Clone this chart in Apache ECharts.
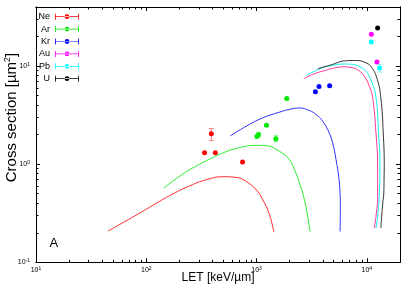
<!DOCTYPE html>
<html><head><meta charset="utf-8">
<script src="https://cdn.jsdelivr.net/npm/echarts@6/dist/echarts.min.js"></script>
<style>html,body{margin:0;padding:0;background:#fff}#c{width:415px;height:291px}</style>
</head><body><div id="c"></div>
<script>
const FONT = '"Liberation Sans", Arial, sans-serif';

// ---- measured data points (LET keV/um, cross section um^2) ----
const ionNames = ['Ne', 'Ar', 'Kr', 'Au', 'Pb', 'U'];
const neLET = [338, 389, 423, 747];
const neSigma = [1.31, 2.04, 1.31, 1.05];
const neLow = [1.31, 1.74, 1.31, 1.05];
const neHigh = [1.31, 2.31, 1.31, 1.05];
const arLET = [1007, 1042, 1231, 1496, 1880];
const arSigma = [1.92, 2.00, 2.49, 1.82, 4.68];
const arLow = [1.92, 1.91, 2.49, 1.69, 4.68];
const arHigh = [1.92, 2.11, 2.49, 1.95, 4.68];
const krLET = [3420, 3690, 4600];
const krSigma = [5.47, 6.20, 6.31];
const krLow = [5.47, 6.20, 6.31];
const krHigh = [5.47, 6.20, 6.31];
const auLET = [10990, 12360];
const auSigma = [21.1, 11.0];
const auLow = [21.1, 11.0];
const auHigh = [21.1, 11.0];
const pbLET = [10990, 13060];
const pbSigma = [17.6, 9.55];
const pbLow = [17.6, 8.7];
const pbHigh = [17.6, 10.4];
const uLET = [12530];
const uSigma = [24.5];
const uLow = [24.5];
const uHigh = [24.5];

// ---- model curves ----
const neFitLET = [45, 87, 124, 175, 248, 351, 495, 655, 807, 994, 1140, 1312, 1435];
const neFitSigma = [0.208, 0.317, 0.401, 0.499, 0.602, 0.695, 0.745, 0.733, 0.667, 0.548, 0.434, 0.305, 0.203];
const arFitLET = [144, 188, 248, 351, 495, 701, 994, 1224, 1616, 1992, 2210, 2451, 2719, 2912, 3061];
const arFitSigma = [0.571, 0.716, 0.879, 1.086, 1.302, 1.476, 1.557, 1.546, 1.352, 1.112, 0.879, 0.643, 0.434, 0.292, 0.206];
const krFitLET = [578, 807, 1140, 1616, 1992, 2451, 3020, 3470, 3981, 4420, 4900, 5260, 5555, 5720, 5755, 5720];
const krFitSigma = [1.94, 2.44, 2.97, 3.39, 3.62, 3.74, 3.52, 3.21, 2.74, 2.25, 1.65, 1.11, 0.750, 0.508, 0.371, 0.206];
const auFitLET = [2680, 3236, 3981, 4900, 6040, 7430, 8550, 9490, 10540, 11280, 12110, 12530, 12530, 12110, 11690];
const auFitSigma = [7.43, 8.22, 8.89, 9.47, 9.81, 9.63, 8.89, 7.91, 6.24, 4.81, 2.08, 0.951, 0.469, 0.292, 0.223];
const pbFitLET = [2818, 3981, 4900, 6250, 7430, 8700, 9840, 11140, 12110, 12790, 13160, 12970, 12530, 12110];
const pbFitSigma = [8.03, 9.63, 10.17, 10.5, 10.4, 9.8, 8.89, 6.76, 4.81, 2.08, 0.951, 0.469, 0.292, 0.223];
const uFitLET = [3590, 4900, 6250, 7870, 9840, 11220, 12450, 13400, 14100, 14390, 14330, 14260, 13960, 13400];
const uFitSigma = [9.40, 10.4, 11.3, 11.4, 10.8, 9.48, 7.31, 4.81, 2.08, 0.951, 0.695, 0.508, 0.404, 0.223];

// ---- ticks ----
const xMajorTicks = [10, 100, 1000, 10000];
const xMinorTicks = [20, 30, 40, 50, 60, 70, 80, 90, 200, 300, 400, 500, 600, 700, 800, 900, 2000, 3000, 4000, 5000, 6000, 7000, 8000, 9000];
const yMajorTicks = [0.1, 1, 10];
const yMinorTicks = [0.2, 0.3, 0.4, 0.5, 0.6, 0.7, 0.8, 0.9, 2, 3, 4, 5, 6, 7, 8, 9, 20, 30];

const pointColors = ['#ff0000', '#00e800', '#0000ff', '#ff00ff', '#00ffff', '#000000'];
const barColors = ['#ff8080', '#80f080', '#8080ff', '#ff80ff', '#80ffff', '#808080'];
const curveColors = ['#ff2a2a', '#2aee2a', '#3030ff', '#ff3399', '#10f0f0', '#333333'];

const ptLET = [neLET, arLET, krLET, auLET, pbLET, uLET];
const ptSig = [neSigma, arSigma, krSigma, auSigma, pbSigma, uSigma];
const ptLo = [neLow, arLow, krLow, auLow, pbLow, uLow];
const ptHi = [neHigh, arHigh, krHigh, auHigh, pbHigh, uHigh];
const fitLET = [neFitLET, arFitLET, krFitLET, auFitLET, pbFitLET, uFitLET];
const fitSig = [neFitSigma, arFitSigma, krFitSigma, auFitSigma, pbFitSigma, uFitSigma];

const rich = {
  b: {fontSize: 7, fontFamily: FONT, color: '#000', lineHeight: 8},
  s: {fontSize: 5, fontFamily: FONT, color: '#000', lineHeight: 5, verticalAlign: 'top'}
};
function powFmt(v) {
  const e = Math.round(Math.log10(v));
  return '{b|10}{s|' + e + '}';
}
function mkAxis(dim, pos, values, len, labels) {
  return {
    type: 'log', logBase: 10, gridIndex: 0, position: pos,
    min: dim === 'x' ? 10 : 0.1, max: dim === 'x' ? 20000 : 40,
    axisLine: {show: true, lineStyle: {color: '#000', width: 1}},
    axisTick: {show: true, inside: true, length: len, customValues: values, lineStyle: {color: '#000', width: 1}},
    axisLabel: labels ? {show: true, customValues: values, margin: dim === 'x' ? 4 : 6, formatter: powFmt, rich: rich} : {show: false},
    splitLine: {show: false}, minorTick: {show: false}, minorSplitLine: {show: false},
    axisPointer: {show: false}
  };
}

const series = [];
ionNames.forEach((n, i) => {
  series.push({
    type: 'scatter', name: n, xAxisIndex: 0, yAxisIndex: 0,
    data: ptLET[i].map((x, k) => [x, ptSig[i][k]]),
    symbol: 'circle', symbolSize: 5, itemStyle: {color: pointColors[i], opacity: 1}, z: 6
  });
});
ionNames.forEach((n, i) => {
  const eb = [];
  ptLET[i].forEach((x, k) => { if (ptHi[i][k] > ptLo[i][k]) eb.push([x, ptLo[i][k], ptHi[i][k]]); });
  if (!eb.length) return;
  const col = barColors[i];
  series.push({
    type: 'custom', name: n + ' err', xAxisIndex: 0, yAxisIndex: 0, z: 5,
    encode: {x: 0, y: [1, 2]}, data: eb,
    renderItem: function (params, api) {
      const x = api.value(0), lo = api.value(1), hi = api.value(2);
      const p1 = api.coord([x, lo]), p2 = api.coord([x, hi]);
      const w = 2.5;
      return {type: 'group', children: [
        {type: 'line', shape: {x1: p1[0], y1: p1[1], x2: p2[0], y2: p2[1]}, style: {stroke: col, lineWidth: 1}},
        {type: 'line', shape: {x1: p1[0] - w, y1: p1[1], x2: p1[0] + w, y2: p1[1]}, style: {stroke: col, lineWidth: 1}},
        {type: 'line', shape: {x1: p2[0] - w, y1: p2[1], x2: p2[0] + w, y2: p2[1]}, style: {stroke: col, lineWidth: 1}}
      ]};
    }
  });
});
ionNames.forEach((n, i) => {
  series.push({
    type: 'line', name: n + ' model', xAxisIndex: 0, yAxisIndex: 0, z: 3,
    data: fitLET[i].map((x, k) => [x, fitSig[i][k]]),
    showSymbol: false, symbol: 'none', smooth: 0.45,
    lineStyle: {color: curveColors[i], width: 1}, itemStyle: {color: curveColors[i]}
  });
});

const ICON = 'path://M0,3.15H24V3.85H0Z M0,0.5H0.8V6.5H0Z M23.2,0.5H24V6.5H23.2Z M9.6,3.5A2.4,2.4 0 1 0 14.4,3.5A2.4,2.4 0 1 0 9.6,3.5Z';

const chart = echarts.init(document.getElementById('c'), null, {renderer: 'canvas'});
chart.setOption({
  animation: false,
  backgroundColor: '#fff',
  grid: {left: 36, right: 15, top: 7, bottom: 28.7, outerBoundsMode: 'none', containLabel: false},
  xAxis: [
    mkAxis('x', 'bottom', xMajorTicks, 4, true),
    mkAxis('x', 'top', xMajorTicks, 4, false),
    mkAxis('x', 'bottom', xMinorTicks, 2.5, false),
    mkAxis('x', 'top', xMinorTicks, 2.5, false)
  ],
  yAxis: [
    mkAxis('y', 'left', yMajorTicks, 4, true),
    mkAxis('y', 'right', yMajorTicks, 4, false),
    mkAxis('y', 'left', yMinorTicks, 2.5, false),
    mkAxis('y', 'right', yMinorTicks, 2.5, false)
  ],
  legend: {
    orient: 'vertical', left: 38.5, top: 12.2, align: 'right', padding: 0,
    itemWidth: 24, itemHeight: 6, itemGap: 3.4, selectedMode: false,
    textStyle: {fontSize: 9, fontFamily: FONT, color: '#000'},
    data: ionNames.map(n => ({name: n, icon: ICON}))
  },
  graphic: [
    {type: 'text', x: 218, y: 278, style: {text: 'LET [keV/µm]', fontSize: 12, fontFamily: FONT, fill: '#000', align: 'center', verticalAlign: 'middle'}},
    {type: 'text', x: 11.5, y: 117.5, rotation: Math.PI / 2, style: {
      text: '{m|Cross section [µm}{s|2}{m|]}', align: 'center', verticalAlign: 'middle',
      rich: {m: {fontSize: 15, fontFamily: FONT, fill: '#000', lineHeight: 16}, s: {fontSize: 9, fontFamily: FONT, fill: '#000', lineHeight: 9, verticalAlign: 'top'}}
    }},
    {type: 'text', x: 53.8, y: 243.5, style: {text: 'A', fontSize: 13, fontFamily: FONT, fill: '#000', align: 'center', verticalAlign: 'middle'}}
  ],
  series: series
});
</script>
</body></html>
